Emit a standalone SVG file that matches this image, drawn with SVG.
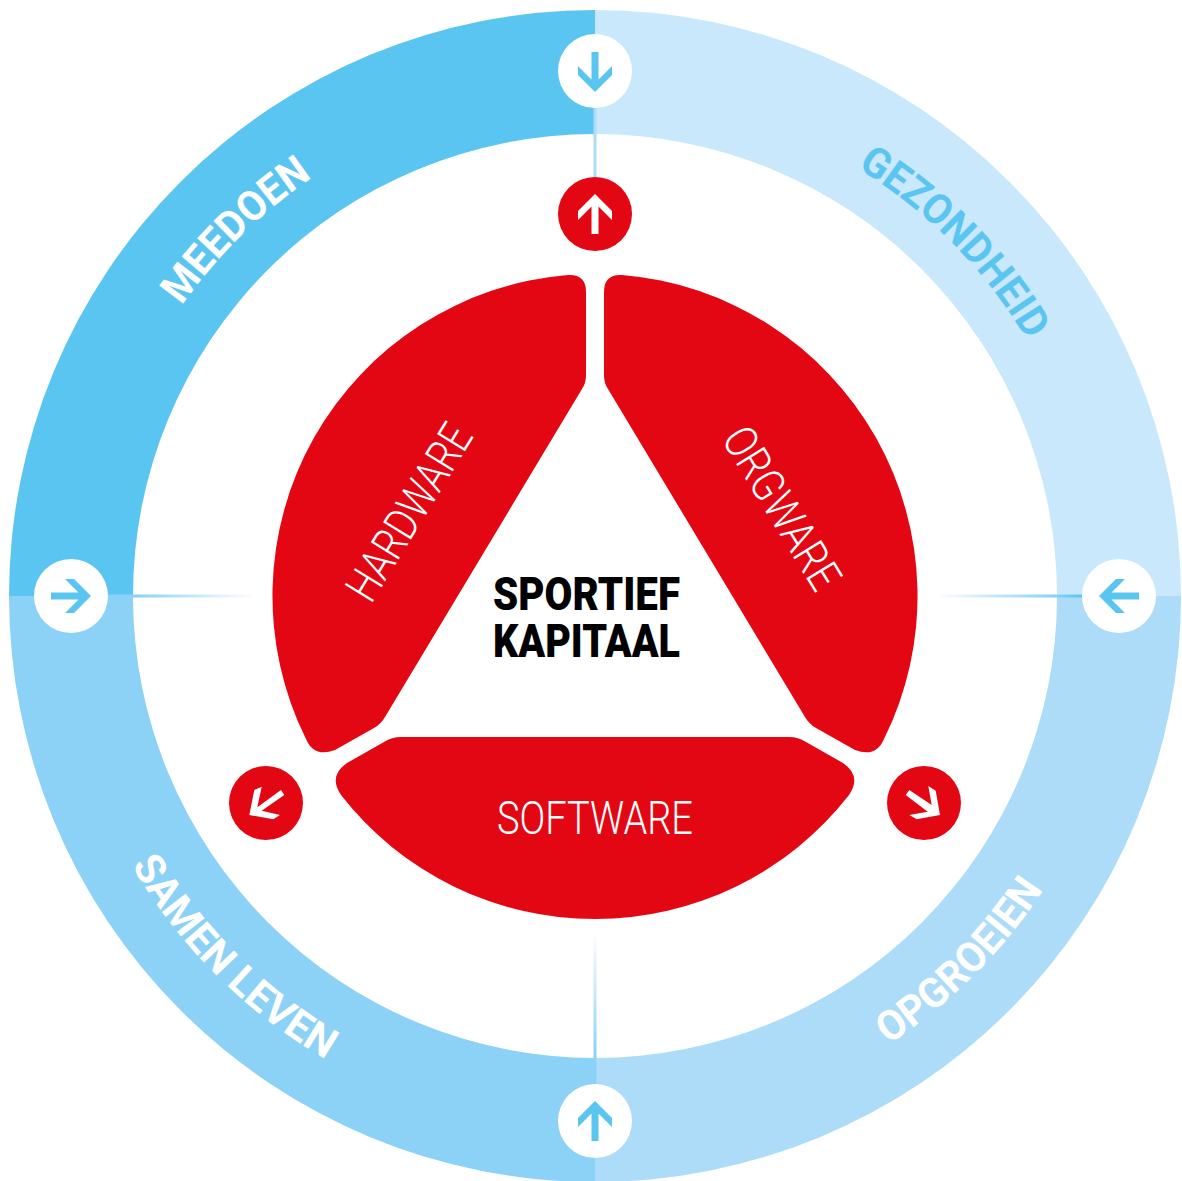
<svg xmlns="http://www.w3.org/2000/svg" width="1182" height="1181" viewBox="0 0 1182 1181">
<style>
.band{font-family:"Roboto","Liberation Sans",sans-serif;font-weight:700;font-size:42px}
.seg{font-family:"Roboto","Liberation Sans",sans-serif;font-weight:300;font-size:46px;fill:#fff;text-anchor:middle}
.ctr{font-family:"Roboto","Liberation Sans",sans-serif;font-weight:900;font-size:46px;fill:#000}
.white{fill:#fff}.red{fill:#e30613}.blue{fill:#5bc5f2}
</style>
<defs>
<polygon id="arrow" points="0,-20 17,-3 17,6 3.5,-7.5 3.5,20 -3.5,20 -3.5,-7.5 -17,6 -17,-3"/>
<linearGradient id="gL" gradientUnits="userSpaceOnUse" x1="107" y1="0" x2="255" y2="0"><stop offset="0" stop-color="#8cd1f6"/><stop offset="0.2" stop-color="#8cd1f6"/><stop offset="1" stop-color="#8cd1f6" stop-opacity="0"/></linearGradient>
<linearGradient id="gR" gradientUnits="userSpaceOnUse" x1="1082" y1="0" x2="935" y2="0"><stop offset="0" stop-color="#5bc5f2"/><stop offset="0.2" stop-color="#8cd1f6"/><stop offset="1" stop-color="#8cd1f6" stop-opacity="0"/></linearGradient>
<linearGradient id="gB" gradientUnits="userSpaceOnUse" x1="0" y1="1085" x2="0" y2="930"><stop offset="0" stop-color="#8cd1f6"/><stop offset="0.2" stop-color="#8cd1f6"/><stop offset="1" stop-color="#8cd1f6" stop-opacity="0"/></linearGradient>
<path id="tTL" d="M90,596 A505,505 0 0 1 595,91"/>
<path id="tTR" d="M595,94 A502,502 0 0 1 1097,596"/>
<path id="tBL" d="M59,596 A536,536 0 0 0 595,1132"/>
<path id="tBR" d="M595,1132 A536,536 0 0 0 1131,596"/>
</defs>
<g id="band-meedoen"><path d="M9,596 A586,586 0 0 1 595,10 V134 A462,462 0 0 0 133,596 Z" fill="#5bc5f2"/>
<text class="band" fill="#fff" textLength="184" lengthAdjust="spacingAndGlyphs"><textPath href="#tTL" startOffset="50.6%" text-anchor="middle">MEEDOEN</textPath></text></g>
<g id="band-gezondheid"><path d="M595,10 A586,586 0 0 1 1181,596 H1057 A462,462 0 0 0 595,134 Z" fill="#cae8fc"/>
<text class="band" fill="#5bc5f2" textLength="245" lengthAdjust="spacingAndGlyphs"><textPath href="#tTR" startOffset="50.5%" text-anchor="middle">GEZONDHEID</textPath></text></g>
<g id="band-opgroeien"><path d="M1181,596 A586,586 0 0 1 595,1182 V1058 A462,462 0 0 0 1057,596 Z" fill="#addcf9"/>
<text class="band" fill="#fff" textLength="221" lengthAdjust="spacingAndGlyphs"><textPath href="#tBR" startOffset="50%" text-anchor="middle">OPGROEIEN</textPath></text></g>
<g id="band-samen-leven"><path d="M595,1182 A586,586 0 0 1 9,596 H133 A462,462 0 0 0 595,1058 Z" fill="#8cd1f6"/>
<text class="band" fill="#fff" textLength="278" lengthAdjust="spacingAndGlyphs"><textPath href="#tBL" startOffset="50%" text-anchor="middle">SAMEN LEVEN</textPath></text></g>
<g id="connectors">
<rect x="593.5" y="105" width="3" height="75" fill="#addcf9"/>
<rect x="107" y="594.5" width="148" height="3" fill="url(#gL)"/>
<rect x="935" y="594.5" width="147" height="3" fill="url(#gR)"/>
<rect x="593.5" y="930" width="3" height="155" fill="url(#gB)"/>
</g>
<g id="orgware"><path class="red" d="M604,292 Q604,274 622,275 A322,322 0 0 1 884,739 Q876,758 855,750 L816,728 Q809,724 805,717 L608,389 Q604,383 604,375 Z"/>
<text class="seg" transform="translate(782,508) rotate(58.5)" y="16" textLength="182" lengthAdjust="spacingAndGlyphs">ORGWARE</text></g>
<g id="hardware"><path class="red" d="M586,292 Q586,274 568,275 A322,322 0 0 0 306,739 Q314,758 335,750 L374,728 Q381,724 385,717 L582,389 Q586,383 586,375 Z"/>
<text class="seg" transform="translate(409,512) rotate(-58.5)" y="16" textLength="198" lengthAdjust="spacingAndGlyphs">HARDWARE</text></g>
<g id="software"><path class="red" d="M401,737 H789 Q798,737 806,742 L843,763 Q862,776 849,795 A322,322 0 0 1 341,795 Q328,776 347,763 L384,742 Q392,737 401,737 Z"/>
<text class="seg" x="595" y="834" textLength="196" lengthAdjust="spacingAndGlyphs">SOFTWARE</text></g>
<g id="sportief-kapitaal"><text class="ctr" x="493" y="610" textLength="187" lengthAdjust="spacingAndGlyphs">SPORTIEF</text><text class="ctr" x="493" y="657" textLength="187" lengthAdjust="spacingAndGlyphs">KAPITAAL</text></g>
<g id="arrow-top"><circle class="white" cx="595" cy="71" r="37"/><use href="#arrow" class="blue" transform="translate(595,72) rotate(180)"/></g>
<g id="arrow-left"><circle class="white" cx="71" cy="596" r="37"/><use href="#arrow" class="blue" transform="translate(71,596) rotate(90)"/></g>
<g id="arrow-right"><circle class="white" cx="1119" cy="596" r="37"/><use href="#arrow" class="blue" transform="translate(1119,596) rotate(-90)"/></g>
<g id="arrow-bottom"><circle class="white" cx="595" cy="1121" r="37"/><use href="#arrow" class="blue" transform="translate(595,1121)"/></g>
<g id="arrow-up-red"><circle class="red" cx="595" cy="214" r="37"/><use href="#arrow" class="white" transform="translate(595,214)"/></g>
<g id="arrow-left-red"><circle class="red" cx="266" cy="803" r="37"/><polygon class="white" points="249.3,815 254.3,790 261.7,786.7 257.3,807.3 281,790 284.3,795 261.7,810.7 280,815 273.3,819.3"/></g>
<g id="arrow-right-red"><circle class="red" cx="924" cy="803" r="37"/><polygon class="white" points="940,815 916.7,819.3 909.3,815 927.7,811.7 905.7,795 909.3,790 931.7,805 928.3,786 935.7,790.7"/></g>
</svg>
